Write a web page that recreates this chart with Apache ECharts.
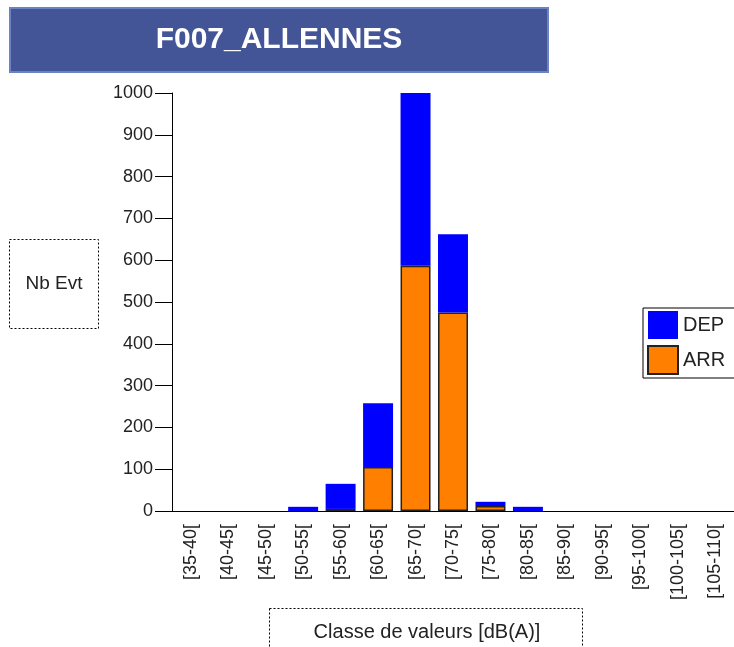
<!DOCTYPE html>
<html>
<head>
<meta charset="utf-8">
<script src="https://cdn.jsdelivr.net/npm/echarts@6/dist/echarts.min.js"></script>
<style>
html, body { margin: 0; padding: 0; background: #fff; }
#chart { width: 734px; height: 647px; }
</style>
</head>
<body>
<div id="chart"></div>
<script>
// classes de valeurs
var categories = ['[35-40[', '[40-45[', '[45-50[', '[50-55[', '[55-60[', '[60-65[', '[65-70[',
	'[70-75[', '[75-80[', '[80-85[', '[85-90[', '[90-95[', '[95-100[', '[100-105[', '[105-110['];
var arrValues = [0, 0, 0, 0, 5, 105, 587, 475, 12, 0, 0, 0, 0, 0, 0];
var depValues = [0, 0, 0, 10, 60, 153, 418, 187, 10, 10, 0, 0, 0, 0, 0];
var yTicks = [0, 100, 200, 300, 400, 500, 600, 700, 800, 900, 1000];

var FONT = "'Liberation Sans', Arial, sans-serif";

// pas de trait pour les classes vides
function noZero(v) {
	return v === 0 ? '-' : v;
}

var option = {
	animation : false,
	textStyle : {
		fontFamily : FONT
	},
	grid : {
		left : 172,
		top : 93,
		width : 566,
		height : 418
	},
	legend : {
		left : 643,
		top : 308,
		orient : 'vertical',
		data : ['DEP', 'ARR'],
		itemWidth : 30,
		itemHeight : 28,
		itemGap : 6,
		padding : [3, 12, 3, 4],
		borderColor : '#000',
		borderWidth : 1,
		icon : 'rect',
		textStyle : {
			fontSize : 20,
			color : '#222',
			fontFamily : FONT
		}
	},
	xAxis : {
		type : 'category',
		data : categories,
		boundaryGap : true,
		axisLine : {
			lineStyle : { color : '#000', width : 1 }
		},
		axisTick : {
			interval : 0,
			length : 11,
			lineStyle : { color : '#000' }
		},
		axisLabel : {
			interval : 0,
			rotate : 90,
			margin : 13,
			fontSize : 18,
			color : '#222',
			fontFamily : FONT
		}
	},
	yAxis : {
		type : 'value',
		min : yTicks[0],
		max : yTicks[yTicks.length - 1],
		interval : 100,
		splitLine : { show : false },
		axisLine : {
			show : true,
			lineStyle : { color : '#000', width : 1 }
		},
		axisTick : {
			show : true,
			length : 17,
			lineStyle : { color : '#000', width : 1 }
		},
		axisLabel : {
			margin : 19,
			fontSize : 18,
			color : '#222',
			fontFamily : FONT,
			formatter : function(v) {
				return String(v);
			}
		}
	},
	series : [{
		name : 'ARR',
		type : 'bar',
		stack : 'total',
		barCategoryGap : '20%',
		data : arrValues.map(noZero),
		itemStyle : {
			color : '#FF8000',
			borderColor : '#222',
			borderWidth : 1.5
		}
	}, {
		name : 'DEP',
		type : 'bar',
		stack : 'total',
		barCategoryGap : '20%',
		data : depValues.map(noZero),
		itemStyle : {
			color : '#0000FF'
		}
	}],
	graphic : [{
		// bandeau du titre
		type : 'rect',
		shape : { x : 10, y : 8, width : 538, height : 64 },
		style : { fill : '#435597', stroke : '#6A82C6', lineWidth : 2 }
	}, {
		type : 'text',
		x : 279,
		y : 40,
		style : {
			text : 'F007_ALLENNES',
			fill : '#fff',
			font : 'bold 30px ' + FONT,
			textAlign : 'center',
			textVerticalAlign : 'middle'
		}
	}, {
		// titre axe Y
		type : 'rect',
		shape : { x : 9.5, y : 239.5, width : 89, height : 89 },
		style : { fill : null, stroke : '#000', lineWidth : 1, lineDash : [2, 2] }
	}, {
		type : 'text',
		x : 54,
		y : 284,
		style : {
			text : 'Nb Evt',
			fill : '#222',
			font : '19px ' + FONT,
			textAlign : 'center',
			textVerticalAlign : 'middle'
		}
	}, {
		// titre axe X
		type : 'rect',
		shape : { x : 269.5, y : 608.5, width : 313, height : 50 },
		style : { fill : null, stroke : '#000', lineWidth : 1, lineDash : [2, 2] }
	}, {
		type : 'text',
		x : 427,
		y : 632,
		style : {
			text : 'Classe de valeurs [dB(A)]',
			fill : '#222',
			font : '20px ' + FONT,
			textAlign : 'center',
			textVerticalAlign : 'middle'
		}
	}]
};

var chart = echarts.init(document.getElementById('chart'));
chart.setOption(option);
</script>
</body>
</html>
